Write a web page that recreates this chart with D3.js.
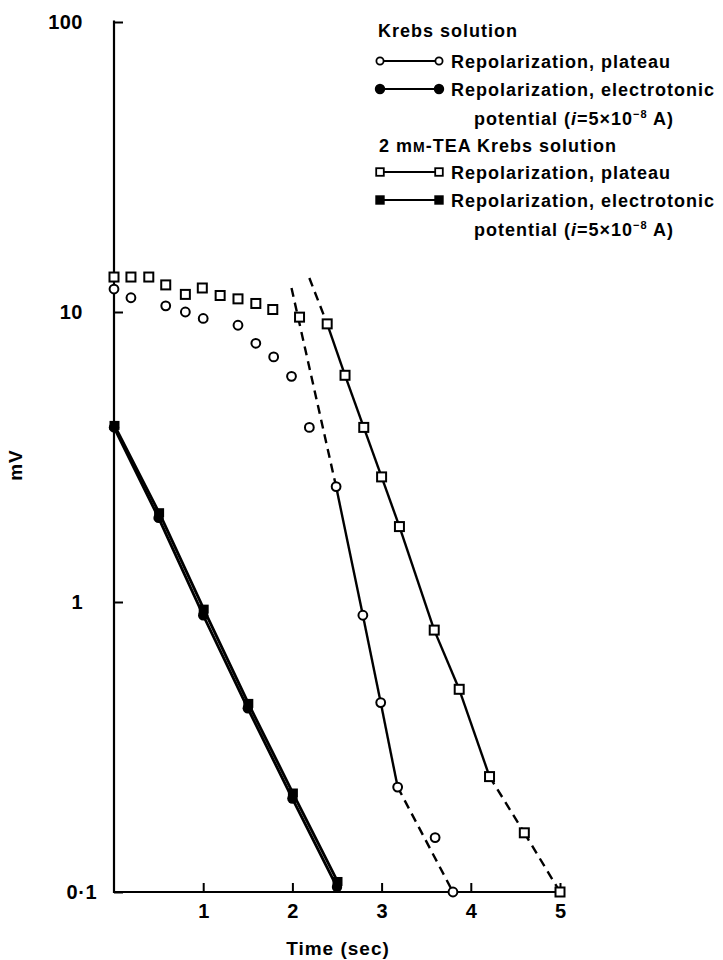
<!DOCTYPE html>
<html>
<head>
<meta charset="utf-8">
<script src="https://cdn.jsdelivr.net/npm/d3@7"></script>
<style>
body { margin: 0; background: #fff; }
text { font-family: "Liberation Sans", Arial, sans-serif; font-weight: bold; fill: #000; }
</style>
</head>
<body>
<svg width="723" height="960"></svg>
<script>
// Krebs solution, repolarization of the plateau (open circles)
var krebsPlateauT = [0, 0.19, 0.58, 0.8, 1.0, 1.39, 1.59, 1.79, 1.99, 2.19, 2.49, 2.79, 2.99, 3.18, 3.6, 3.8];
var krebsPlateauV = [12.0, 11.2, 10.5, 10.0, 9.5, 9.0, 7.8, 7.0, 6.0, 4.0, 2.5, 0.9, 0.45, 0.23, 0.154, 0.1];
// fitted line through the falling phase; dash flag per segment
var krebsFitT = [1.99, 2.49, 2.79, 2.99, 3.18, 3.8];
var krebsFitV = [12.1, 2.5, 0.9, 0.45, 0.23, 0.1];
var krebsFitDash = [true, false, false, false, true];

// 2 mM-TEA Krebs solution, repolarization of the plateau (open squares)
var teaPlateauT = [0, 0.19, 0.39, 0.58, 0.8, 0.99, 1.19, 1.39, 1.59, 1.78, 2.08, 2.39, 2.59, 2.8, 3.0, 3.2, 3.59, 3.87, 4.21, 4.6, 5.0];
var teaPlateauV = [13.2, 13.2, 13.2, 12.4, 11.5, 12.1, 11.4, 11.1, 10.7, 10.2, 9.6, 9.1, 6.05, 4.0, 2.7, 1.82, 0.8, 0.5, 0.25, 0.16, 0.1];
var teaFitT = [2.19, 2.39, 2.59, 2.8, 3.0, 3.2, 3.59, 3.87, 4.21, 4.6, 5.0];
var teaFitV = [13.1, 9.1, 6.05, 4.0, 2.7, 1.82, 0.8, 0.5, 0.25, 0.16, 0.1];
var teaFitDash = [true, false, false, false, false, false, false, false, true, true];

// electrotonic potential (i = 5x10-8 A)
var electroT = [0, 0.5, 1.0, 1.5, 2.0, 2.5];
var krebsElectroV = [4.0, 1.95, 0.90, 0.43, 0.210, 0.104];
var teaElectroV = [4.0, 2.0, 0.93, 0.44, 0.216, 0.107];

var xTicks = [1, 2, 3, 4, 5];
var yTicks = [100, 10, 1, 0.1];
var yTickLabels = ["100", "10", "1", "0·1"];

var svg = d3.select("svg");
var x = d3.scaleLinear().domain([0, 5]).range([114, 560]);
var y = d3.scaleLog().domain([0.1, 100]).range([892, 22]);

function pts(ts, vs) { return ts.map(function(t, i) { return [t, vs[i]]; }); }
var line = d3.line().x(function(d) { return x(d[0]); }).y(function(d) { return y(d[1]); });

// axes
var yAxis = svg.append("g").attr("transform", "translate(114,0)")
	.call(d3.axisLeft(y).tickValues(yTicks).tickSizeInner(-9).tickSizeOuter(0).tickPadding(31)
		.tickFormat(function(d, i) { return yTickLabels[i]; }));
yAxis.select(".domain").attr("stroke-width", 2.2).attr("d", "M0," + (y(100) - 1.5) + "V" + (y(0.1) + 1));
yAxis.selectAll(".tick line").attr("stroke-width", 2);
yAxis.selectAll(".tick text").style("font-size", "20px").attr("letter-spacing", 0.5)
	.attr("dx", function(d) { return d === 0.1 ? 14 : 0; });

var xAxis = svg.append("g").attr("transform", "translate(0,892)")
	.call(d3.axisBottom(x).tickValues(xTicks).tickSizeInner(-9).tickSizeOuter(0).tickPadding(12)
		.tickFormat(d3.format("d")));
xAxis.select(".domain").attr("stroke-width", 2.2).attr("d", "M113,0H563");
xAxis.selectAll(".tick line").attr("stroke-width", 2);
xAxis.selectAll(".tick text").style("font-size", "20px");

svg.append("text").attr("transform", "translate(22,465) rotate(-90)")
	.attr("text-anchor", "middle").style("font-size", "19px").attr("letter-spacing", 1).text("mV");
svg.append("text").attr("x", 338).attr("y", 955)
	.attr("text-anchor", "middle").style("font-size", "19px").attr("letter-spacing", 1).text("Time (sec)");

// fitted lines
function drawFit(ts, vs, dash) {
	var p = pts(ts, vs);
	for (var i = 0; i < p.length - 1; i++) {
		svg.append("path").attr("d", line([p[i], p[i + 1]]))
			.attr("fill", "none").attr("stroke", "#000").attr("stroke-width", 2.4)
			.attr("stroke-dasharray", dash[i] ? "9,6" : null);
	}
}
drawFit(krebsFitT, krebsFitV, krebsFitDash);
drawFit(teaFitT, teaFitV, teaFitDash);

svg.append("path").datum(pts(electroT, krebsElectroV)).attr("d", line)
	.attr("fill", "none").attr("stroke", "#000").attr("stroke-width", 2.8);
svg.append("path").datum(pts(electroT, teaElectroV)).attr("d", line)
	.attr("fill", "none").attr("stroke", "#000").attr("stroke-width", 2.8)
	.attr("transform", "translate(1.5,0)");

// markers
svg.append("g").selectAll("circle").data(pts(krebsPlateauT, krebsPlateauV)).join("circle")
	.attr("cx", function(d) { return x(d[0]); }).attr("cy", function(d) { return y(d[1]); })
	.attr("r", 4.4).attr("fill", "#fff").attr("stroke", "#000").attr("stroke-width", 2);
svg.append("g").selectAll("rect").data(pts(teaPlateauT, teaPlateauV)).join("rect")
	.attr("x", function(d) { return x(d[0]) - 4.5; }).attr("y", function(d) { return y(d[1]) - 4.5; })
	.attr("width", 9).attr("height", 9).attr("fill", "#fff").attr("stroke", "#000").attr("stroke-width", 2);
svg.append("g").selectAll("rect").data(pts(electroT, teaElectroV)).join("rect")
	.attr("x", function(d) { return x(d[0]) - 4.5; }).attr("y", function(d) { return y(d[1]) - 6.5; })
	.attr("width", 10).attr("height", 9).attr("fill", "#000");
svg.append("g").selectAll("circle").data(pts(electroT, krebsElectroV)).join("circle")
	.attr("cx", function(d) { return x(d[0]); }).attr("cy", function(d) { return y(d[1]); })
	.attr("r", 5.2).attr("fill", "#000");

// legend
var leg = svg.append("g").style("font-size", "18px").attr("letter-spacing", 1.0);
leg.append("text").attr("x", 378).attr("y", 37).text("Krebs solution");
leg.append("text").attr("x", 379).attr("y", 152).html("2 m<tspan style='font-size:14px'>M</tspan>-TEA Krebs solution");

var legRows = [
	{ y: 61, shape: "circle", fill: "#fff", label: "Repolarization, plateau", sub: false },
	{ y: 89, shape: "circle", fill: "#000", label: "Repolarization, electrotonic", sub: true },
	{ y: 172, shape: "square", fill: "#fff", label: "Repolarization, plateau", sub: false },
	{ y: 200, shape: "square", fill: "#000", label: "Repolarization, electrotonic", sub: true }
];
legRows.forEach(function(r) {
	var g = leg.append("g");
	g.append("line").attr("x1", 380).attr("x2", 439).attr("y1", r.y).attr("y2", r.y)
		.attr("stroke", "#000").attr("stroke-width", 2);
	[380, 439].forEach(function(cx) {
		if (r.shape === "circle") {
			g.append("circle").attr("cx", cx).attr("cy", r.y).attr("r", r.fill === "#000" ? 4.3 : 3.6)
				.attr("fill", r.fill).attr("stroke", "#000").attr("stroke-width", 1.8);
		} else {
			g.append("rect").attr("x", cx - 3.8).attr("y", r.y - 3.8).attr("width", 7.6).attr("height", 7.6)
				.attr("fill", r.fill).attr("stroke", "#000").attr("stroke-width", 1.8);
		}
	});
	g.append("text").attr("x", 451).attr("y", r.y + 7).text(r.label);
	if (r.sub) {
		g.append("text").attr("x", 474).attr("y", r.y + 36)
			.html("potential (<tspan font-style='italic'>i</tspan>=5×10<tspan dy='-7' style='font-size:11px'>−8</tspan><tspan dy='7'> A)</tspan>");
	}
});
</script>
</body>
</html>
